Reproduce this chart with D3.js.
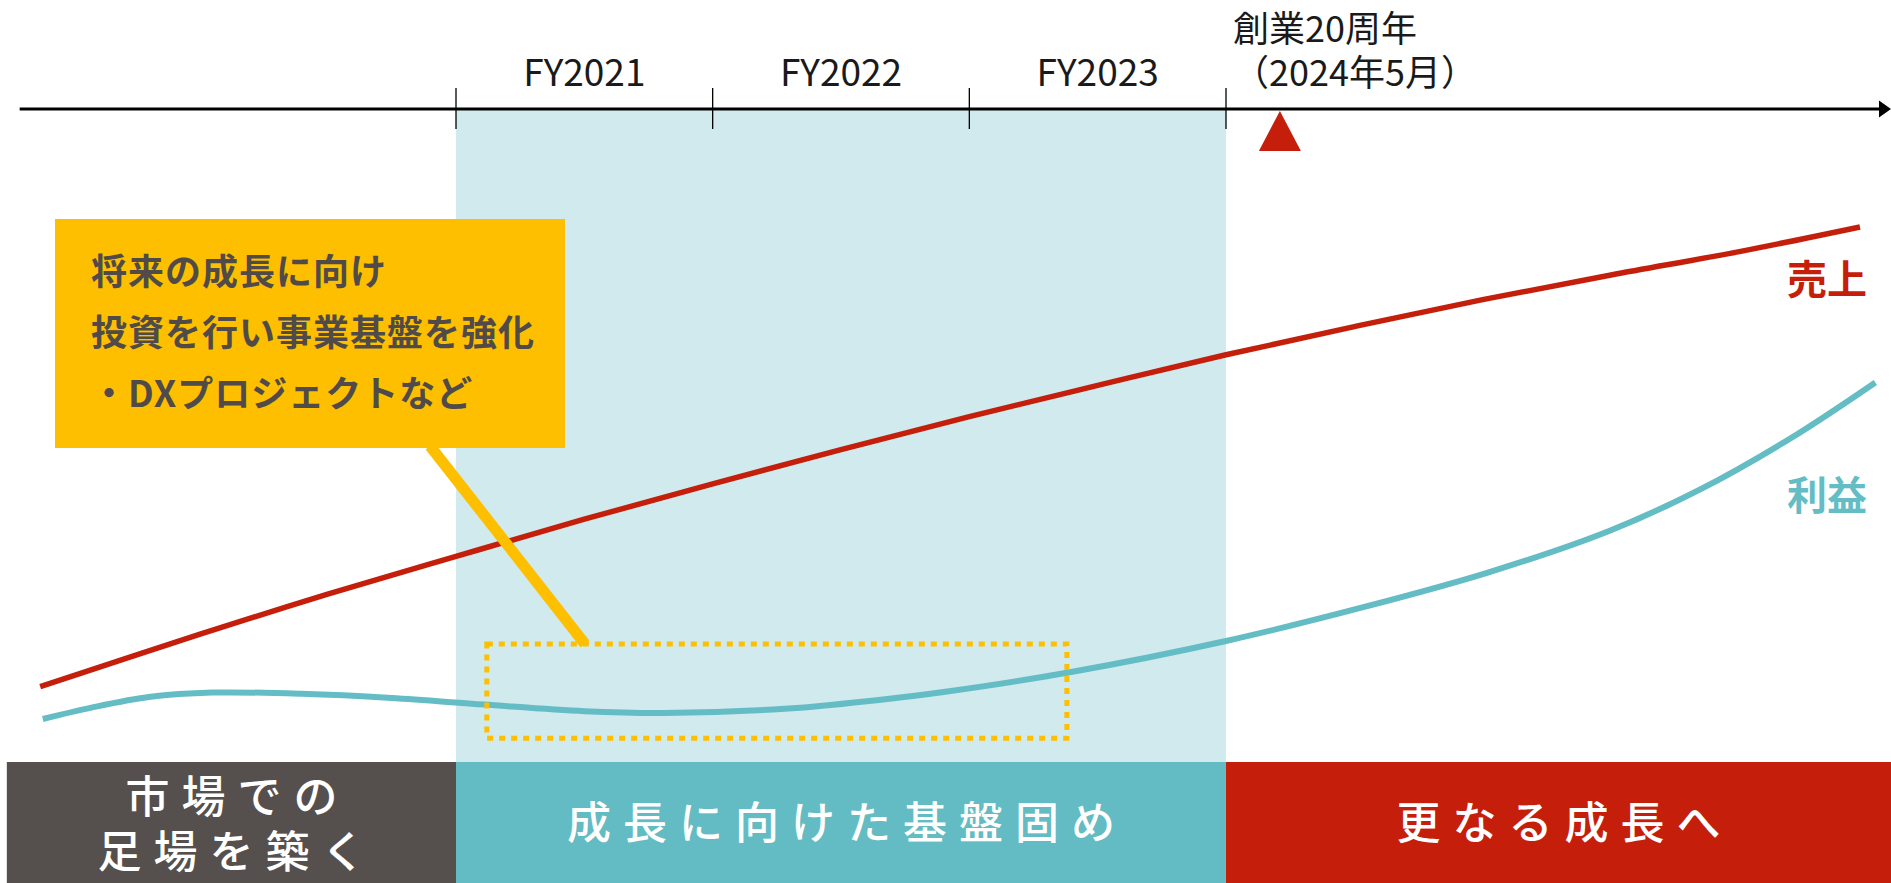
<!DOCTYPE html>
<html lang="ja">
<head>
<meta charset="utf-8">
<script src="https://cdn.jsdelivr.net/npm/d3@7"></script>
<style>
  html, body { margin: 0; padding: 0; background: #fff; }
  svg { display: block; }
  text { font-family: "Noto Sans CJK JP", "Noto Sans", sans-serif; }
</style>
</head>
<body>
<svg id="chart" width="1891" height="883"></svg>
<script>
// ---------- data ----------
const fyTicks = [2021, 2022, 2023, 2024];
const fyLabels = ["FY2021", "FY2022", "FY2023"];
const milestoneYear = 2024.21;
const milestoneLabel = ["創業20周年", "（2024年5月）"];

const salesYears  = [2019.38, 2020.0, 2020.5, 2021.0, 2021.5, 2022.0, 2022.5, 2023.0, 2023.5, 2024.0, 2024.5, 2025.0, 2025.5, 2026.0, 2026.47];
const salesValues = [8.9, 17.6, 24.3, 30.6, 36.8, 42.7, 48.4, 53.9, 59.1, 64.2, 68.9, 73.4, 77.5, 81.4, 85.5];

const profitYears  = [2019.39, 2019.58, 2019.81, 2020.05, 2020.40, 2020.75, 2021.11, 2021.50, 2021.81, 2022.28, 2022.63, 2022.90, 2023.38, 2024.00, 2024.55, 2025.02, 2025.49, 2025.84, 2026.20, 2026.53];
const profitValues = [3.5, 5.4, 7.2, 7.9, 7.7, 7.0, 5.9, 4.8, 4.5, 5.2, 6.6, 8.0, 11.2, 16.5, 22.3, 27.9, 34.8, 41.6, 50.3, 59.6];

const seriesNames = ["売上", "利益"];

const phaseNames  = [["市場での", "足場を築く"], ["成長に向けた基盤固め"], ["更なる成長へ"]];
const phaseStarts = [2019.25, 2021, 2024];
const phaseEnds   = [2021, 2024, 2026.7];

const calloutLines = ["将来の成長に向け", "投資を行い事業基盤を強化", "・DXプロジェクトなど"];
const highlightYears  = [2021.12, 2023.38];
const highlightValues = [0.3, 16.0];

// ---------- styles ----------
const C = {
  red: "#c51e0b",
  teal: "#64bdc5",
  tealBand: "#63bbc4",
  lightBlue: "#d0eaed",
  gray: "#55504d",
  yellow: "#fdbf00",
  calloutText: "#504b48",
  ink: "#1a1a1a"
};
const phaseColors = [C.gray, C.tealBand, C.red];

// ---------- scales ----------
const svg = d3.select("#chart");
const W = 1891, H = 883;
const x = d3.scaleLinear().domain([2021, 2024]).range([456, 1226]);
const y = d3.scaleLinear().domain([0, 100]).range([740, 140]);
const axisY = 109;
const bandTop = 762;

// light blue background for FY2021–FY2023
svg.append("rect")
  .attr("x", x(fyTicks[0])).attr("y", axisY)
  .attr("width", x(fyTicks[3]) - x(fyTicks[0]))
  .attr("height", bandTop - axisY)
  .attr("fill", C.lightBlue);

// ---------- timeline axis ----------
const axisStart = x(2019.3);
svg.append("line")
  .attr("x1", axisStart).attr("x2", W - 10)
  .attr("y1", axisY).attr("y2", axisY)
  .attr("stroke", "#000").attr("stroke-width", 3);
svg.append("path")
  .attr("d", `M${W - 12},${axisY - 8.5} L${W},${axisY} L${W - 12},${axisY + 8.5} Z`)
  .attr("fill", "#000");

svg.selectAll("line.tick").data(fyTicks).enter().append("line")
  .attr("class", "tick")
  .attr("x1", d => x(d)).attr("x2", d => x(d))
  .attr("y1", axisY - 21).attr("y2", axisY + 20)
  .attr("stroke", "#000").attr("stroke-width", 1.3);

svg.selectAll("text.fy").data(fyLabels).enter().append("text")
  .attr("class", "fy")
  .attr("x", (d, i) => x(fyTicks[i] + 0.5))
  .attr("y", 86)
  .attr("text-anchor", "middle")
  .attr("font-size", 37)
  .attr("fill", C.ink)
  .text(d => d);

// milestone
const mx = x(milestoneYear);
svg.append("path")
  .attr("d", `M${mx},${axisY + 2} L${mx + 21},${axisY + 42} L${mx - 21},${axisY + 42} Z`)
  .attr("fill", C.red);
svg.selectAll("text.ms").data(milestoneLabel).enter().append("text")
  .attr("class", "ms")
  .attr("x", 1233)
  .attr("y", (d, i) => 42 + i * 44)
  .attr("font-size", 36)
  .attr("fill", C.ink)
  .text(d => d);

// ---------- lines ----------
const line = d3.line().x(d => x(d[0])).y(d => y(d[1])).curve(d3.curveCatmullRom.alpha(0.5));
const sales = salesYears.map((yr, i) => [yr, salesValues[i]]);
const profit = profitYears.map((yr, i) => [yr, profitValues[i]]);

svg.append("path").datum(sales)
  .attr("d", line).attr("fill", "none")
  .attr("stroke", C.red).attr("stroke-width", 5.5);
svg.append("path").datum(profit)
  .attr("d", line).attr("fill", "none")
  .attr("stroke", C.teal).attr("stroke-width", 6);

// series labels
svg.append("text")
  .attr("x", 1867).attr("y", 294)
  .attr("text-anchor", "end")
  .attr("font-size", 40).attr("font-weight", 700)
  .attr("fill", C.red).text(seriesNames[0]);
svg.append("text")
  .attr("x", 1867).attr("y", 510)
  .attr("text-anchor", "end")
  .attr("font-size", 40).attr("font-weight", 700)
  .attr("fill", C.teal).text(seriesNames[1]);

// ---------- highlight (dotted) ----------
svg.append("rect")
  .attr("x", x(highlightYears[0])).attr("y", y(highlightValues[1]))
  .attr("width", x(highlightYears[1]) - x(highlightYears[0]))
  .attr("height", y(highlightValues[0]) - y(highlightValues[1]))
  .attr("fill", "none")
  .attr("stroke", C.yellow).attr("stroke-width", 5)
  .attr("stroke-dasharray", "6,6");

// ---------- callout ----------
const box = { x0: 55, y0: 219, x1: 565, y1: 448 };
svg.append("line")
  .attr("x1", 430).attr("y1", box.y1 - 2)
  .attr("x2", 585).attr("y2", y(highlightValues[1]))
  .attr("stroke", C.yellow).attr("stroke-width", 11);
svg.append("rect")
  .attr("x", box.x0).attr("y", box.y0)
  .attr("width", box.x1 - box.x0).attr("height", box.y1 - box.y0)
  .attr("fill", C.yellow);
svg.selectAll("text.callout").data(calloutLines).enter().append("text")
  .attr("class", "callout")
  .attr("x", 91)
  .attr("y", (d, i) => 285 + i * 61)
  .attr("font-size", 36).attr("font-weight", 700)
  .attr("letter-spacing", 1)
  .attr("fill", C.calloutText)
  .text(d => d);

// ---------- phase bands ----------
const phases = phaseNames.map((n, i) => ({ lines: n, s: phaseStarts[i], e: phaseEnds[i], c: phaseColors[i] }));
const pg = svg.selectAll("g.phase").data(phases).enter().append("g").attr("class", "phase");
pg.append("rect")
  .attr("x", d => x(d.s)).attr("y", bandTop)
  .attr("width", d => x(d.e) - x(d.s)).attr("height", H - bandTop)
  .attr("fill", d => d.c);
pg.each(function (d) {
  const cx = (x(d.s) + Math.min(x(d.e), W)) / 2 + 6;
  const n = d.lines.length;
  d3.select(this).selectAll("text").data(d.lines).enter().append("text")
    .attr("x", cx)
    .attr("y", (t, i) => n === 1 ? 839 : 813 + i * 55)
    .attr("text-anchor", "middle")
    .attr("font-size", 44).attr("font-weight", 500)
    .attr("letter-spacing", 12)
    .attr("fill", "#fff")
    .text(t => t);
});
</script>
</body>
</html>
